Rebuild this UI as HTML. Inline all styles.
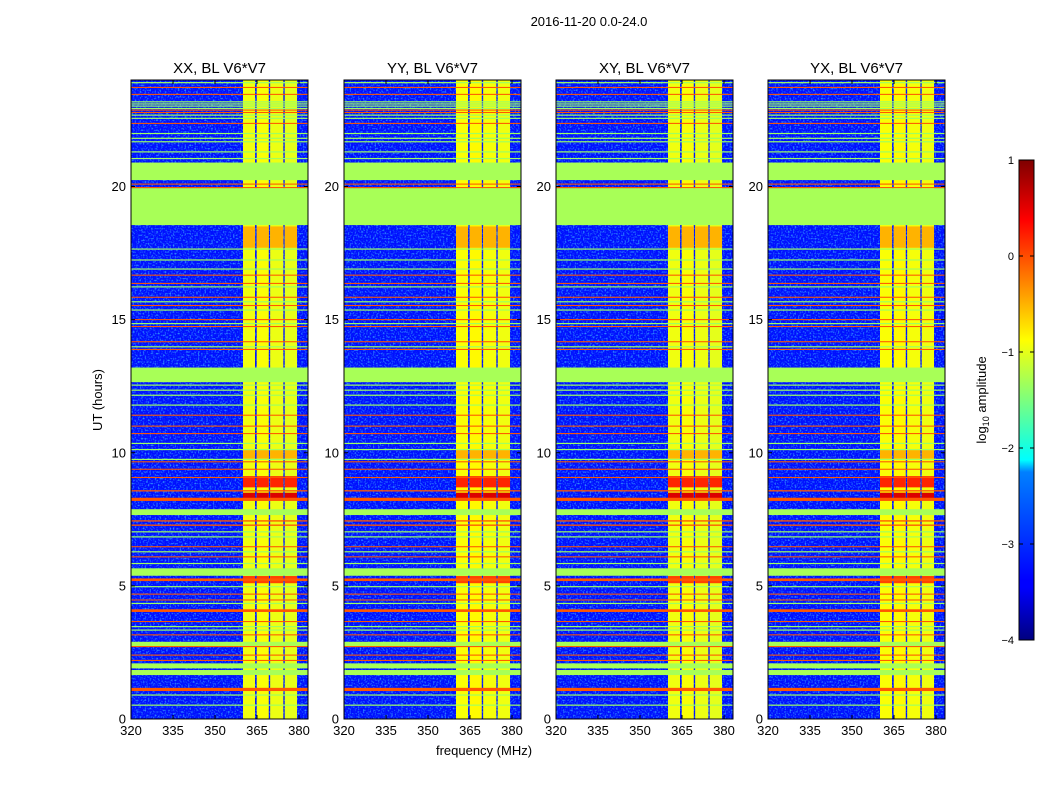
<!DOCTYPE html>
<html><head><meta charset="utf-8"><style>
body{margin:0;background:#fff;}
svg text{font-family:"Liberation Sans","DejaVu Sans",sans-serif;}
</style></head><body>
<svg id="chart" width="1050" height="800" viewBox="0 0 1050 800" xmlns="http://www.w3.org/2000/svg">
<defs>
<filter id="noise" x="0" y="0" width="100%" height="100%">
<feTurbulence type="fractalNoise" baseFrequency="0.6" numOctaves="1" seed="3"/>
<feColorMatrix type="matrix" values="0 0 0 0 0.05  0 0 0 0 0.5  0 0 0 0 1  2.4 0 0 0 -1.15"/>
</filter>
<linearGradient id="jet" x1="0" y1="1" x2="0" y2="0">
<stop offset="0" stop-color="#00007f"/><stop offset="0.11" stop-color="#0000ff"/><stop offset="0.125" stop-color="#0000ff"/>
<stop offset="0.35" stop-color="#0080ff"/><stop offset="0.375" stop-color="#00ffff"/><stop offset="0.4" stop-color="#14ffe2"/>
<stop offset="0.625" stop-color="#ffff00"/><stop offset="0.875" stop-color="#ff0000"/><stop offset="1" stop-color="#7f0000"/>
</linearGradient>
</defs>
<text x="589" y="26" font-size="13" text-anchor="middle">2016-11-20 0.0-24.0</text>
<text x="484" y="755" font-size="13" text-anchor="middle">frequency (MHz)</text>
<text transform="translate(102,400) rotate(-90)" font-size="13" text-anchor="middle">UT (hours)</text>
<g id="panels"></g>
<g id="cbar">
<rect x="1019" y="160" width="15" height="480" fill="url(#jet)" stroke="#000" stroke-width="1"/>
<text transform="translate(986,400) rotate(-90)" font-size="13" text-anchor="middle">log<tspan font-size="9" dy="3">10</tspan><tspan dy="-3"> amplitude</tspan></text>
</g>
</svg>
<script>
// ---- data ----
const panelTitles = ["XX, BL V6*V7","YY, BL V6*V7","XY, BL V6*V7","YX, BL V6*V7"];
const xTicks = [320,335,350,365,380];
const yTicks = [0,5,10,15,20];
const cbarTicks = [1,0,-1,-2,-3,-4];
const backgroundLevel = -3.3;
// yellow frequency columns
const colStart = [360.0, 364.9, 369.7, 374.9];
const colEnd   = [364.3, 369.2, 374.4, 379.3];
const colLevel = [-0.95, -0.9, -0.97, -1.0];
// flagged (green) full-width bands
const flagStart = [20.24, 18.55, 12.65, 7.66, 5.38, 2.72, 1.90, 1.65];
const flagEnd   = [20.9, 19.94, 13.2, 7.88, 5.66, 2.90, 2.09, 1.84];
const flagLevel = -1.3;
// RFI lines (orange/red)
const rfiHour = [23.72,23.46,22.87,22.78,22.37,20.09,19.96,16.67,16.36,15.84,15.53,15.0,14.74,14.17,13.88,11.41,11.0,10.72,9.66,9.38,9.07,8.57,8.25,7.44,7.28,6.47,6.09,5.23,4.69,4.47,4.07,3.66,3.16,2.72,2.4,2.2,1.11];
const rfiWidth = [0.04,0.04,0.04,0.04,0.04,0.04,0.04,0.04,0.04,0.04,0.04,0.04,0.04,0.04,0.04,0.04,0.04,0.04,0.04,0.04,0.04,0.05,0.12,0.05,0.05,0.04,0.04,0.1,0.04,0.04,0.1,0.04,0.04,0.04,0.04,0.04,0.12];
const rfiLevel = -0.05;
// thin green lines
const gHour = [23.9,23.18,23.1,23.02,22.93,22.68,22.56,21.99,21.81,21.68,21.3,21.05,17.65,17.24,16.9,16.23,15.67,15.36,14.85,13.98,12.54,12.35,12.16,11.79,10.35,10.12,9.75,7.03,6.84,6.28,5.84,4.97,4.34,3.47,3.34,0.9,0.52];
const gLevel = -1.35;
// bursts inside the frequency columns
const burstStart = [17.7, 8.70, 8.25, 9.78, 5.10];
const burstEnd   = [18.5, 9.12, 8.50, 10.1, 5.37];
const burstLevel = [-0.5, 0.2, 0.55, -0.5, 0.05];

// ---- helpers ----
function jet(v){
  const t=(v+4)/5, c=x=>Math.round(255*Math.max(0,Math.min(1,x)));
  return `rgb(${c(1.5-Math.abs(4*t-3))},${c(1.5-Math.abs(4*t-2))},${c(1.5-Math.abs(4*t-1))})`;
}
const NS="http://www.w3.org/2000/svg";
const panelX=[131,344,556,768], PW=177, PT=80, PB=719;
const yS=h=>PB-(h/24)*(PB-PT);
function mk(tag,attrs,parent){const e=document.createElementNS(NS,tag);for(const k in attrs)e.setAttribute(k,attrs[k]);parent.appendChild(e);return e;}
const root=document.getElementById('panels');
panelTitles.forEach((title,p)=>{
  const x0=panelX[p];
  const xS=f=>x0+(f-320)*2.8;
  const g=mk('g',{},root);
  
  
  const clipId='c'+p;
  const cp=mk('clipPath',{id:clipId},g); mk('rect',{x:x0,y:PT,width:PW,height:PB-PT},cp);
  const hm=mk('g',{'clip-path':`url(#${clipId})`},g);
  
  
  mk('rect',{x:x0,y:PT,width:PW,height:PB-PT,fill:jet(backgroundLevel)},hm);
  mk('rect',{x:x0,y:PT,width:PW,height:PB-PT,filter:'url(#noise)'},hm);
  colStart.forEach((f,i)=>{
    const r=mk('rect',{x:xS(f),y:PT,width:xS(colEnd[i])-xS(f),height:PB-PT,fill:jet(colLevel[i]+(p%2?0.05:0))},hm);
    
    
    burstStart.forEach((h,j)=>{
      const b=mk('rect',{x:xS(f),y:yS(burstEnd[j]),width:xS(colEnd[i])-xS(f),height:yS(h)-yS(burstEnd[j]),fill:jet(burstLevel[j])},hm);
      
      
    });
  });
  gHour.forEach(h=>{
    const l=mk('rect',{x:x0,y:yS(h)-0.6,width:PW,height:1.2,fill:jet(gLevel)},hm);
    
    
  });
  flagStart.forEach((h,i)=>{
    const r=mk('rect',{x:x0,y:yS(flagEnd[i]),width:PW,height:yS(h)-yS(flagEnd[i]),fill:jet(flagLevel)},hm);
    
    
  });
  rfiHour.forEach((h,i)=>{
    const hh=Math.max(1.0,rfiWidth[i]*26.63);
    const l=mk('rect',{x:x0,y:yS(h)-hh/2,width:PW,height:hh,fill:jet(rfiLevel)},hm);
    
    
  });
  mk('rect',{x:x0,y:PT,width:PW,height:PB-PT,fill:'none',stroke:'#000','stroke-width':1},g);
  const t=mk('text',{x:x0+PW/2,y:73,'font-size':15,'text-anchor':'middle'},g);
  t.textContent=title;
  
  
  xTicks.forEach(v=>{
    const x=xS(v);
    mk('line',{x1:x,x2:x,y1:PB,y2:PB-4,stroke:'#000'},g);
    mk('line',{x1:x,x2:x,y1:PT,y2:PT+4,stroke:'#000'},g);
    const tl=mk('text',{x:x,y:PB+16,'font-size':13,'text-anchor':'middle'},g);
    tl.textContent=v;
    
    
  });
  yTicks.forEach(v=>{
    const y=yS(v);
    mk('line',{x1:x0,x2:x0+4,y1:y,y2:y,stroke:'#000'},g);
    mk('line',{x1:x0+PW,x2:x0+PW-4,y1:y,y2:y,stroke:'#000'},g);
    const tl=mk('text',{x:x0-5,y:y+4.5,'font-size':13,'text-anchor':'end'},g);
    tl.textContent=v;
    
    
  });
});
const cb=document.getElementById('cbar');
cbarTicks.forEach(v=>{
  const y=640-(v+4)/5*480;
  mk('line',{x1:1019,x2:1023,y1:y,y2:y,stroke:'#000'},cb);
  mk('line',{x1:1034,x2:1030,y1:y,y2:y,stroke:'#000'},cb);
  const tl=mk('text',{x:1014,y:y+4,'font-size':11,'text-anchor':'end'},cb);
  tl.textContent=(v<0?'\u2212'+(-v):v);
  
  
});
</script>
</body></html>
